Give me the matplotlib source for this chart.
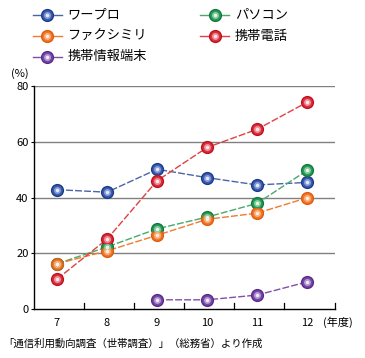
import matplotlib
matplotlib.use("Agg")
import matplotlib.pyplot as plt
from matplotlib.lines import Line2D

plt.rcParams['font.family'] = ['Noto Sans CJK JP', 'DejaVu Sans']

# data
years = ['7', '8', '9', '10', '11', '12']
wapuro = [42.8, 41.9, 50.1, 47.1, 44.5, 45.4]
pasokon = [16.3, 22.3, 28.8, 33.0, 37.9, 49.7]
fax = [16.3, 20.9, 26.5, 32.2, 34.4, 39.9]
keitai = [10.8, 25.1, 46.0, 57.9, 64.4, 74.1]
jouhou = [None, None, 3.4, 3.4, 5.1, 9.8]

# name, values, line colour, sphere shades (outer -> centre)
series = [
    ('ワープロ', wapuro, '#4a64a8', ['#1c3a8a', '#3a5cb0', '#8a9ed6', '#e6eaf8']),
    ('パソコン', pasokon, '#4aa86a', ['#0f7a3c', '#2a9a58', '#88cca0', '#e6f6ec']),
    ('ファクシミリ', fax, '#f07a30', ['#e05a10', '#f07828', '#f8b080', '#fdeee0']),
    ('携帯電話', keitai, '#e04040', ['#c0101c', '#d83040', '#ee9098', '#fbe8ea']),
    ('携帯情報端末', jouhou, '#8050a8', ['#5a2a8a', '#7448a4', '#b49ad0', '#f0eaf8']),
]
sizes = [9.5, 7.5, 5, 2.5]

fig = plt.figure(figsize=(3.65, 3.58), dpi=100)
ax = fig.add_axes([0.0932, 0.136, 0.825, 0.6246])

xs = list(range(len(years)))
for name, vals, lc, shades in series:
    px = [x for x, v in zip(xs, vals) if v is not None]
    pv = [v for v in vals if v is not None]
    ax.plot(px, pv, color=lc, lw=1.0, ls=(0, (5, 1.5)), zorder=3)
    for k, (ms, col) in enumerate(zip(sizes, shades)):
        ax.plot(px, pv, ls='none', marker='o', ms=ms, mfc=col, mec=col, mew=0, zorder=4 + k)

ax.set_xlim(-0.46, 5.56)
ax.set_ylim(0, 80)
ax.set_yticks([0, 20, 40, 60, 80])
ax.set_yticklabels(['0', '20', '40', '60', '80'], fontsize=8)
for y in [20, 40, 60, 80]:
    ax.axhline(y, color='#808080', lw=1.0, zorder=1)

ax.set_xticks(xs)
ax.set_xticklabels(years, fontsize=8)
ax.tick_params(axis='x', length=0, pad=6)
ax.tick_params(axis='y', length=2, width=0.8, pad=2)
for b in [0.54 + i for i in range(5)] + [5.56]:
    ax.plot([b, b], [0, 2.4], color='black', lw=0.9, clip_on=False, zorder=2)

ax.spines['top'].set_visible(False)
ax.spines['right'].set_visible(False)
ax.spines['left'].set_linewidth(1.0)
ax.spines['bottom'].set_linewidth(1.0)

# legend drawn by hand in two columns
positions = [(0.09, 0.958), (0.548, 0.958), (0.09, 0.899), (0.548, 0.899), (0.09, 0.841)]
for (name, vals, lc, shades), (lx, ly) in zip(series, positions):
    fig.lines.append(Line2D([lx, lx + 0.08], [ly, ly], color=lc, lw=1.0, transform=fig.transFigure))
    for ms, col in zip(sizes, shades):
        fig.lines.append(Line2D([lx + 0.04], [ly], marker='o', ms=ms, mfc=col, mec=col, mew=0,
                                ls='none', transform=fig.transFigure))
    fig.text(lx + 0.095, ly, name, fontsize=9.5, va='center', ha='left')

fig.text(0.03, 0.795, '(%)', fontsize=8, va='center')
fig.text(0.885, 0.1, '(年度)', fontsize=8, va='center')
fig.text(0.01, 0.04, '「通信利用動向調査（世帯調査）」（総務省）より作成', fontsize=7.5, va='center')

fig.savefig('out.png', dpi=100)
